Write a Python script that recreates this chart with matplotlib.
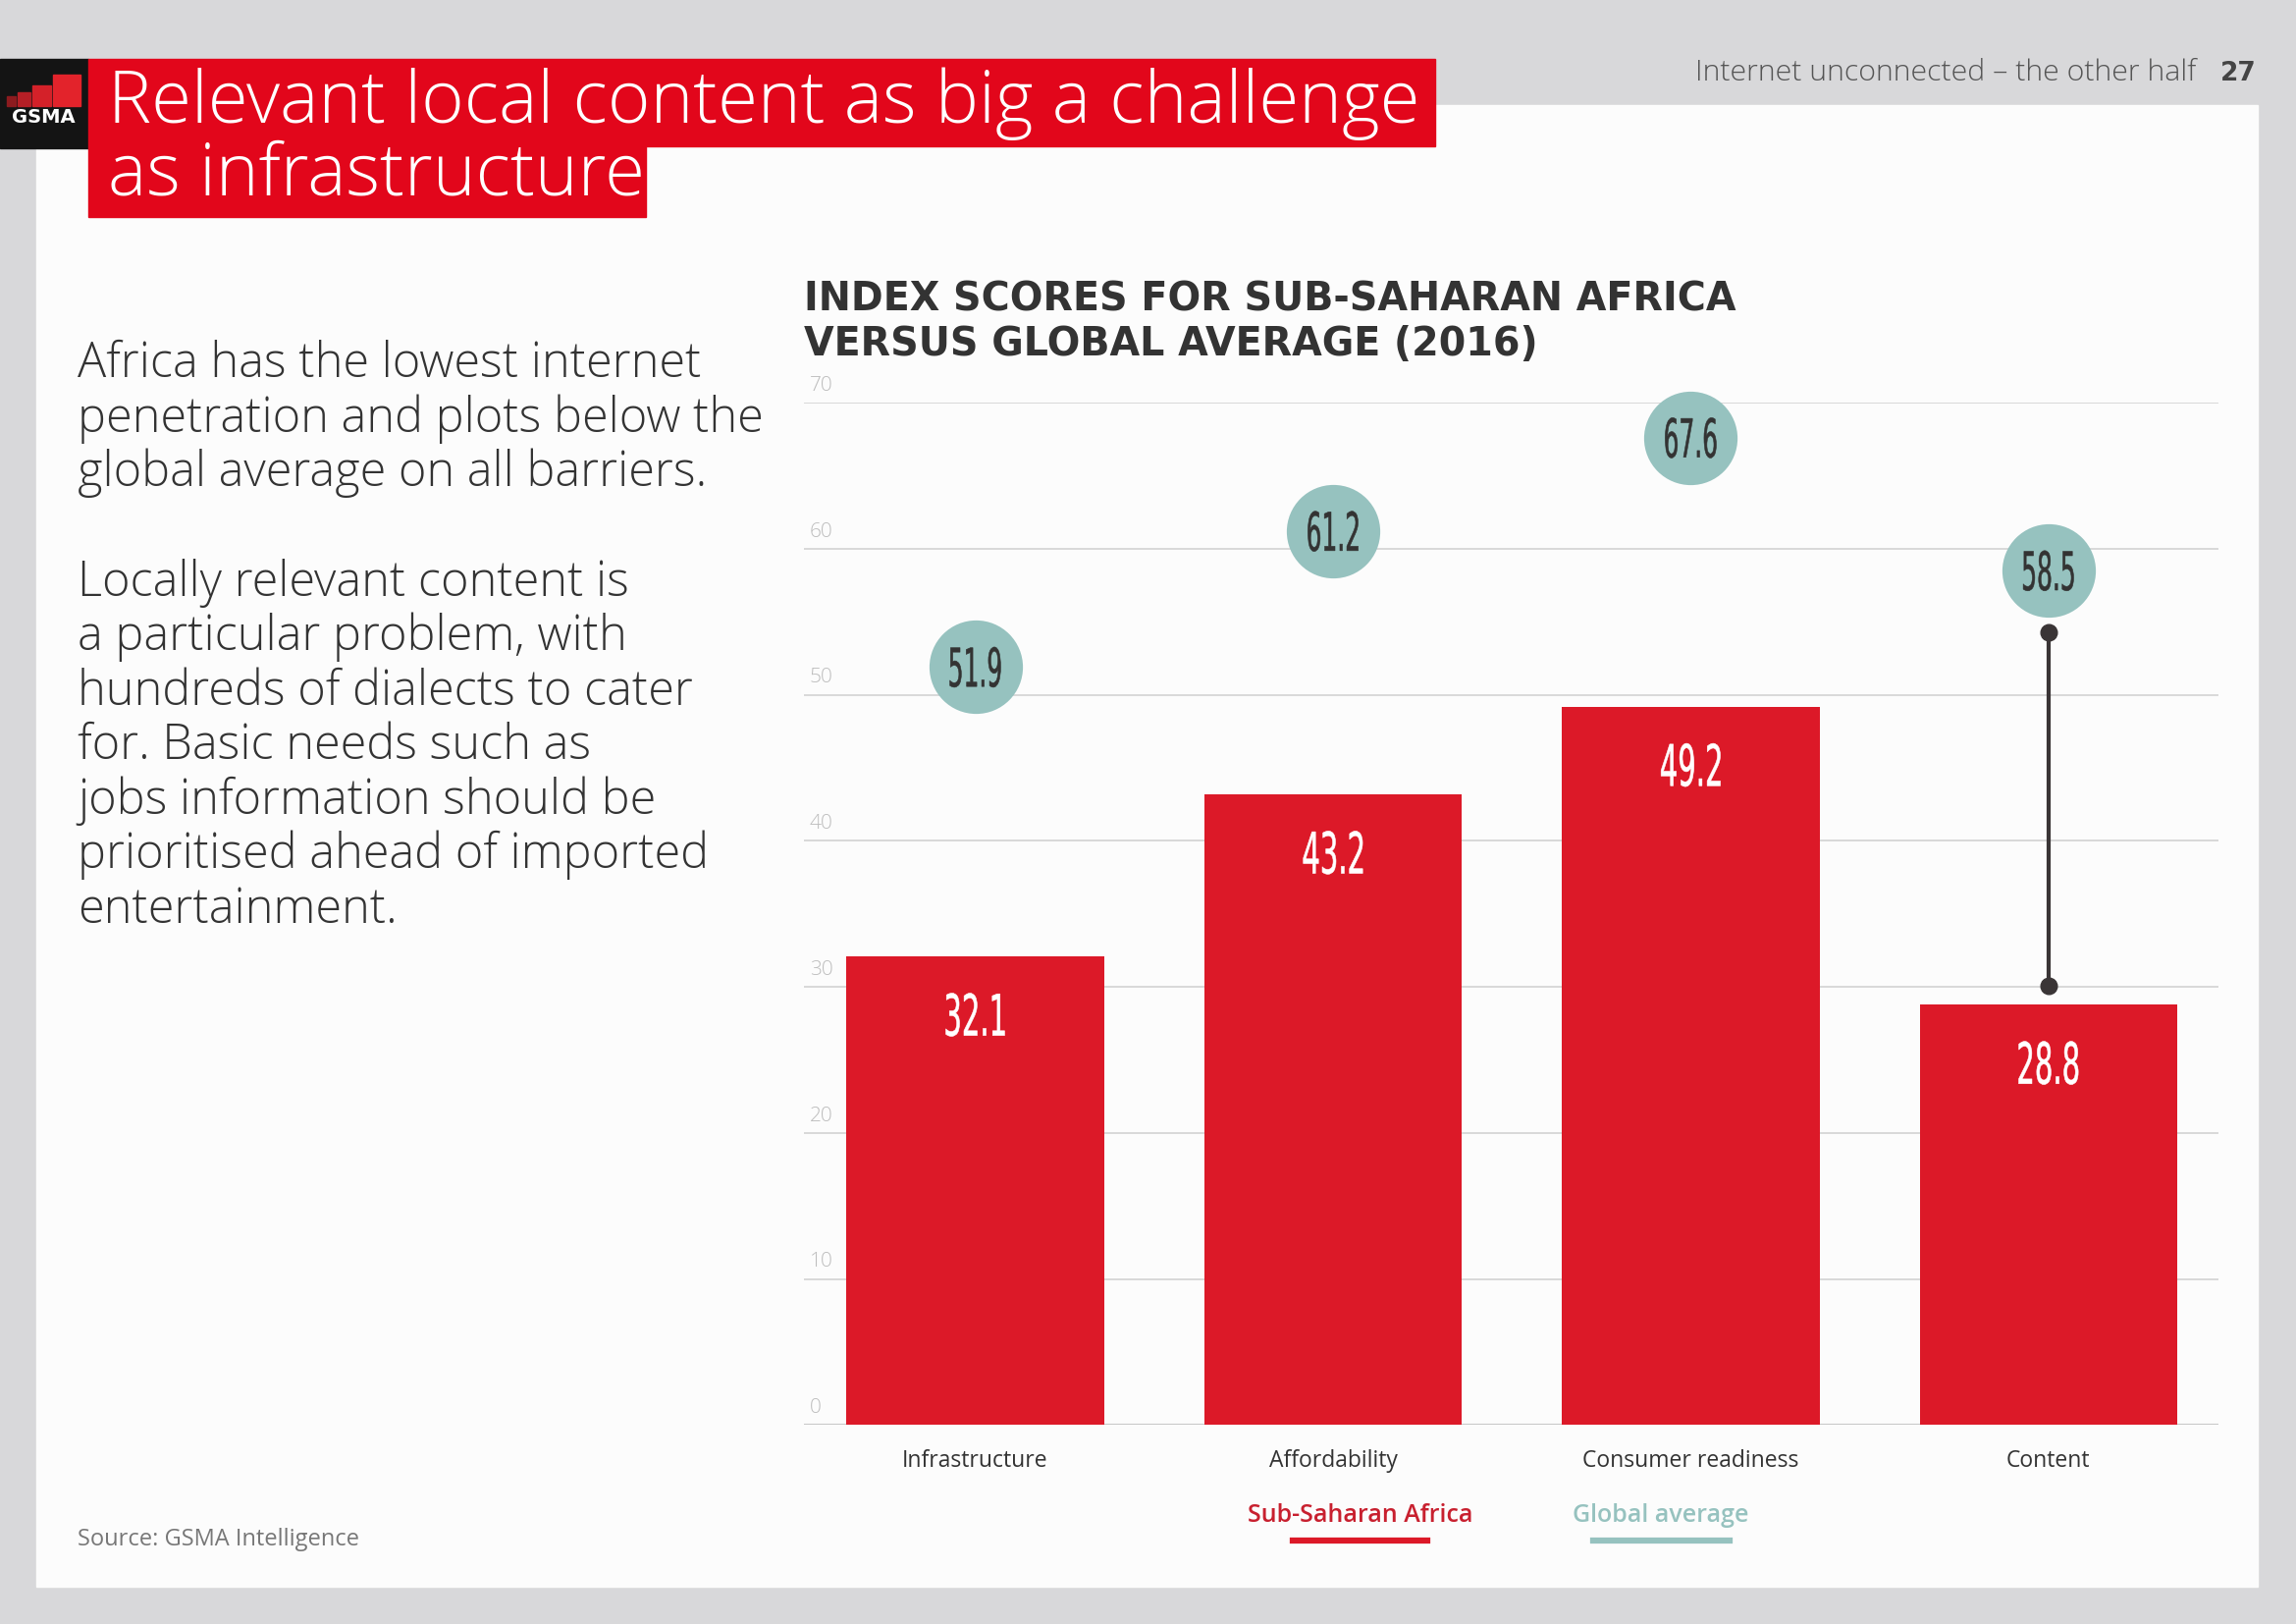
import matplotlib
matplotlib.use('Agg')
import matplotlib.pyplot as plt
import matplotlib.transforms as mtransforms
from matplotlib.patches import Rectangle, PathPatch
from matplotlib.lines import Line2D
from matplotlib.textpath import TextPath
from matplotlib.font_manager import FontProperties

# data
categories = ['Infrastructure', 'Affordability', 'Consumer readiness', 'Content']
ssa_scores = [32.1, 43.2, 49.2, 28.8]
global_scores = [51.9, 61.2, 67.6, 58.5]
y_ticks = [0, 10, 20, 30, 40, 50, 60, 70]

title_lines = ['Relevant local content as big a challenge', 'as infrastructure']
chart_title = ['INDEX SCORES FOR SUB-SAHARAN AFRICA', 'VERSUS GLOBAL AVERAGE (2016)']
para1 = ['Africa has the lowest internet',
         'penetration and plots below the',
         'global average on all barriers.']
para2 = ['Locally relevant content is',
         'a particular problem, with',
         'hundreds of dialects to cater',
         'for. Basic needs such as',
         'jobs information should be',
         'prioritised ahead of imported',
         'entertainment.']

RED = '#DC1928'
TEAL = '#96C2BF'
DARK = '#333333'
LIGHT = ['Open Sans', 'Lato', 'DejaVu Sans']
NUM_FONT = FontProperties(family='DejaVu Sans')

# layout measured on a 1568 px wide preview of the page
W, H = 2339, 1654
S = W / 1568


def fx(x):
    return x * S / W


def fy(y):
    return 1 - y * S / H


def box(x0, y0, x1, y1, color, z=1):
    fig.patches.append(Rectangle((fx(x0), fy(y1)), fx(x1) - fx(x0), fy(y0) - fy(y1),
                                 transform=fig.transFigure, color=color, zorder=z))


def narrow_label(xi, yv, s, color, height_px, squeeze=0.48):
    # condensed numerals: squeeze a text path horizontally
    tp = TextPath((0, 0), s, size=1, prop=NUM_FONT)
    ext = tp.get_extents()
    k = height_px / ext.height
    px, py = ax.transData.transform((xi, yv))
    tr = (mtransforms.Affine2D()
          .translate(-(ext.x0 + ext.x1) / 2, -(ext.y0 + ext.y1) / 2)
          .scale(k * squeeze, k).translate(px, py))
    ax.add_patch(PathPatch(tp, transform=tr, facecolor=color, edgecolor=color,
                           lw=0.4, zorder=6, clip_on=False))


fig = plt.figure(figsize=(23.39, 16.54), dpi=100, facecolor='#d8d8da')

# page panel
box(25, 72, 1542, 1083, '#fcfcfc', 0)

# gsma logo
box(0, 40, 60, 101, '#141414')
logo_bars = [(4.9, 10.7, 65.9), (12.3, 20.8, 63.0), (22.3, 34.6, 58.1), (36.4, 54.8, 50.7)]
logo_cols = ['#8c1b1f', '#b51f26', '#d42129', '#e3232b']
for (a, b, top), c in zip(logo_bars, logo_cols):
    box(a, top, b, 72.6, c, 2)
fig.text(fx(30), fy(80), 'GSMA', color='white', fontsize=14, fontweight='bold',
         ha='center', va='center')

# title boxes
box(60, 40, 980, 100, '#E2061B')
box(60, 100, 441, 148, '#E2061B')
fig.text(fx(74), fy(71), title_lines[0], color='white', fontsize=53.5,
         family=LIGHT, fontweight='light', va='center')
fig.text(fx(74), fy(120), title_lines[1], color='white', fontsize=53.5,
         family=LIGHT, fontweight='light', va='center')

# page header
fig.text(fx(1500), fy(50), 'Internet unconnected \u2013 the other half', color='#555555',
         fontsize=21.8, family=LIGHT, fontweight='light', ha='right', va='center')
fig.text(fx(1541), fy(50), '27', color='#444444', fontsize=19, fontweight='bold',
         ha='right', va='center')

# body text
for i, line in enumerate(para1):
    fig.text(fx(53), fy(249 + 37 * i), line, color=DARK, fontsize=35,
             family=LIGHT, fontweight='light', va='center')
for i, line in enumerate(para2):
    fig.text(fx(53), fy(398 + 37.2 * i), line, color=DARK, fontsize=35,
             family=LIGHT, fontweight='light', va='center')

fig.text(fx(53), fy(1051), 'Source: GSMA Intelligence', color='#777777', fontsize=17,
         family=LIGHT, va='center')

# chart title
fig.text(fx(549), fy(205), chart_title[0], color=DARK, fontsize=28.5, fontweight='bold', va='center')
fig.text(fx(549), fy(235), chart_title[1], color=DARK, fontsize=28.5, fontweight='bold', va='center')

# chart
ax = fig.add_axes([fx(549), fy(973), fx(1515) - fx(549), fy(275) - fy(973)], zorder=5)
ax.set_facecolor('none')
x = list(range(len(categories)))
ax.set_xlim(-0.479, 3.475)
ax.set_ylim(0, 70)
for s in ax.spines.values():
    s.set_visible(False)
ax.set_yticks([])
ax.set_xticks(x)
ax.set_xticklabels(categories, fontsize=16.5, color=DARK, family=LIGHT)
ax.tick_params(axis='x', length=0, pad=18)

for t in y_ticks:
    ax.axhline(t, color='#c8c8c8' if t == 0 else '#d6d6d6', lw=2.2 if t == 0 else 1.3, zorder=1)
    ax.text(0.004, t + 0.5, str(t), transform=ax.get_yaxis_transform(), fontsize=15,
            color='#bdbdbd', family=LIGHT, fontweight='light', va='bottom', ha='left')

ax.bar(x, ssa_scores, width=0.72, color=RED, zorder=2)
for xi, v in zip(x, ssa_scores):
    narrow_label(xi, v - 4, f'{v:.1f}', 'white', 44, 0.5)

# gap marker for content
ax.plot([3, 3], [global_scores[3] - 4.2, ssa_scores[3] + 1.3], color='#3a3536', lw=3,
        marker='o', ms=12, zorder=3, clip_on=False)

ax.scatter(x, global_scores, s=4700, color=TEAL, zorder=4, clip_on=False, linewidths=0)
for xi, v in zip(x, global_scores):
    narrow_label(xi, v, f'{v:.1f}', DARK, 41, 0.46)

# legend
fig.text(fx(929), fy(1035), 'Sub-Saharan Africa', color='#C8202F', fontsize=18,
         family=LIGHT, fontweight='semibold', ha='center', va='center')
fig.text(fx(1134), fy(1035), 'Global average', color=TEAL, fontsize=18,
         family=LIGHT, fontweight='semibold', ha='center', va='center')
fig.add_artist(Line2D([fx(883), fx(975)], [fy(1052)] * 2, lw=4.5, color=RED))
fig.add_artist(Line2D([fx(1088), fx(1181)], [fy(1052)] * 2, lw=4.5, color=TEAL))

fig.savefig('out.png', dpi=100, facecolor=fig.get_facecolor())
